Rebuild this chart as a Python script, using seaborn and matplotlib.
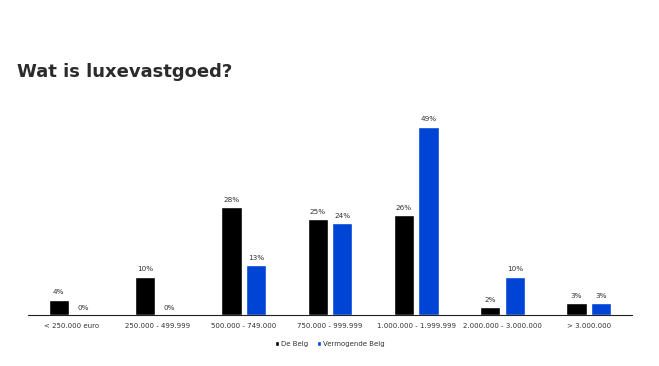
import matplotlib
matplotlib.use("Agg")
import matplotlib.pyplot as plt
import seaborn as sns
import pandas as pd

categories = ["< 250.000 euro", "250.000 - 499.999", "500.000 - 749.000", "750.000 - 999.999",
              "1.000.000 - 1.999.999", "2.000.000 - 3.000.000", "> 3.000.000"]
de_belg = [4, 10, 28, 25, 26, 2, 3]
vermogende_belg = [0, 0, 13, 24, 49, 10, 3]
series_names = ["De Belg", "Vermogende Belg"]

df = pd.DataFrame({
    "cat": categories * 2,
    "val": de_belg + vermogende_belg,
    "serie": [series_names[0]] * len(categories) + [series_names[1]] * len(categories),
})

sns.set_theme(style="white")
plt.rcParams['font.family'] = ['DejaVu Sans']

fig = plt.figure(figsize=(6.59, 3.66), dpi=100)
ax = fig.add_axes([28/659, 1 - 315/366, (632-28)/659, 200/366])

palette = {"De Belg": "#000000", "Vermogende Belg": "#0044D6"}
sns.barplot(data=df, x="cat", y="val", hue="serie", palette=palette, order=categories,
            hue_order=series_names, width=0.57, gap=0.18, ax=ax, legend=False, saturation=1)

for cont in ax.containers:
    ax.bar_label(cont, labels=[f"{int(round(v))}%" for v in cont.datavalues],
                 padding=3, fontsize=5.2, color="#333333")

ax.set_ylim(0, 52)
ax.set_xlim(-0.5, len(categories) - 0.5)
ax.set_yticks([])
ax.set_xlabel("")
ax.set_ylabel("")
for s in ["top", "left", "right"]:
    ax.spines[s].set_visible(False)
ax.spines["bottom"].set_color("#222222")
ax.spines["bottom"].set_linewidth(0.8)
ax.tick_params(axis="x", labelsize=5.0, colors="#333333", length=0, pad=6)

fig.text(17/659, 1 - 72/366, "Wat is luxevastgoed?", fontsize=13, fontweight="bold",
         color="#2b2b2b", va="center", ha="left")

from matplotlib.patches import Patch
handles = [Patch(facecolor=palette[n], label=n) for n in series_names]
fig.legend(handles=handles, loc="center", bbox_to_anchor=(330/659, 1 - 344/366), ncol=2,
           frameon=False, fontsize=5.0, handlelength=0.6, handleheight=0.6,
           handletextpad=0.3, columnspacing=1.2, labelcolor="#333333")

fig.savefig("out.png", dpi=100)
